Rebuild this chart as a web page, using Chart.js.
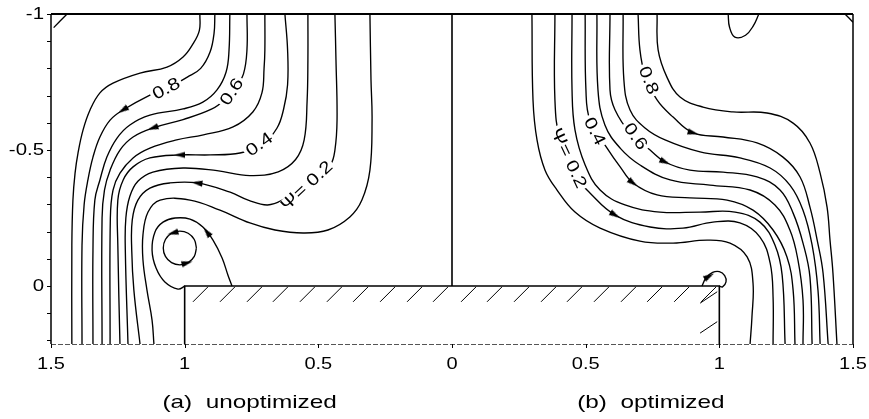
<!DOCTYPE html>
<html>
<head>
<meta charset="utf-8">
<script src="https://cdn.jsdelivr.net/npm/chart.js@4.4.0/dist/chart.umd.min.js"></script>
<style>
html, body { margin: 0; padding: 0; background: #fff; }
#wrap { width: 869px; height: 419px; }
</style>
</head>
<body>
<div id="wrap"><canvas id="c" width="869" height="419"></canvas></div>
<script>
// streamlines, left half (unoptimized), [x, y] with y = -1 at the top
const psiL9 = [[-0.943,-1],[-0.945,-0.94],[-0.969,-0.89],[-1.006,-0.842],[-1.066,-0.805],[-1.167,-0.783],[-1.268,-0.746],[-1.317,-0.710],[-1.354,-0.647],[-1.380,-0.574],[-1.399,-0.489],[-1.410,-0.415],[-1.418,-0.316],[-1.422,-0.15],[-1.422,0.213]];
const psiL8 = [[-0.887,-1],[-0.89,-0.93],[-0.905,-0.86],[-0.94,-0.80],[-0.99,-0.768],[-1.06,-0.73],[-1.130,-0.702],[-1.231,-0.647],[-1.279,-0.610],[-1.317,-0.548],[-1.343,-0.474],[-1.362,-0.390],[-1.376,-0.30],[-1.384,-0.15],[-1.384,0.213]];
const psiL7 = [[-0.831,-1],[-0.834,-0.868],[-0.845,-0.787],[-0.879,-0.721],[-0.932,-0.676],[-1.006,-0.651],[-1.130,-0.628],[-1.205,-0.592],[-1.253,-0.544],[-1.291,-0.474],[-1.317,-0.390],[-1.336,-0.316],[-1.343,-0.132],[-1.343,0.213]];
const psiL6 = [[-0.767,-1],[-0.767,-0.868],[-0.78,-0.78],[-0.81,-0.73],[-0.85,-0.685],[-0.90,-0.650],[-1.006,-0.612],[-1.119,-0.581],[-1.193,-0.548],[-1.242,-0.5],[-1.279,-0.426],[-1.300,-0.353],[-1.309,-0.25],[-1.309,0.213]];
const psiL5 = [[-0.700,-1],[-0.700,-0.868],[-0.703,-0.80],[-0.711,-0.71],[-0.745,-0.640],[-0.819,-0.585],[-0.93,-0.556],[-1.03,-0.537],[-1.130,-0.507],[-1.193,-0.471],[-1.242,-0.415],[-1.268,-0.353],[-1.278,-0.25],[-1.279,0.213]];
const psiL4 = [[-0.625,-1],[-0.615,-0.868],[-0.615,-0.74],[-0.630,-0.65],[-0.655,-0.58],[-0.71,-0.52],[-0.793,-0.489],[-0.905,-0.482],[-1.018,-0.482],[-1.130,-0.471],[-1.193,-0.438],[-1.230,-0.390],[-1.250,-0.316],[-1.250,-0.15],[-1.242,0.213]];
const psiL3 = [[-0.539,-1],[-0.539,-0.83],[-0.542,-0.68],[-0.553,-0.537],[-0.585,-0.465],[-0.650,-0.42],[-0.756,-0.406],[-0.879,-0.424],[-1.006,-0.434],[-1.119,-0.419],[-1.175,-0.385],[-1.205,-0.33],[-1.220,-0.25],[-1.222,-0.132],[-1.212,0.213]];
const psiL2 = [[-0.438,-1],[-0.434,-0.831],[-0.430,-0.610],[-0.438,-0.5],[-0.455,-0.445],[-0.51,-0.40],[-0.57,-0.36],[-0.63,-0.318],[-0.69,-0.298],[-0.76,-0.315],[-0.83,-0.345],[-0.954,-0.379],[-1.055,-0.379],[-1.130,-0.360],[-1.175,-0.316],[-1.196,-0.243],[-1.198,-0.132],[-1.190,0.015],[-1.167,0.213]];
const psiL1 = [[-0.307,-1],[-0.303,-0.757],[-0.299,-0.610],[-0.307,-0.426],[-0.337,-0.316],[-0.382,-0.254],[-0.464,-0.206],[-0.557,-0.195],[-0.662,-0.206],[-0.756,-0.232],[-0.868,-0.279],[-0.980,-0.316],[-1.092,-0.316],[-1.137,-0.272],[-1.156,-0.188],[-1.156,-0.096],[-1.141,0.015],[-1.122,0.125],[-1.115,0.213]];
const psiL0 = [[-0.999,0],[-1.025,0.011],[-1.074,-0.015],[-1.107,-0.066],[-1.122,-0.132],[-1.111,-0.199],[-1.081,-0.235],[-1.036,-0.250],[-0.980,-0.246],[-0.932,-0.217],[-0.894,-0.169],[-0.860,-0.103],[-0.838,-0.040],[-0.823,0]];
const vortexL = [[-0.956,-0.140],[-0.964,-0.109],[-0.987,-0.086],[-1.018,-0.078],[-1.049,-0.086],[-1.072,-0.109],[-1.080,-0.140],[-1.072,-0.171],[-1.049,-0.194],[-1.018,-0.202],[-0.987,-0.194],[-0.964,-0.171],[-0.956,-0.140]];
const cornerL = [[-1.49,-0.95],[-1.44,-1]];

// streamlines, right half (optimized)
const psiR1 = [[0.299,-1],[0.303,-0.684],[0.318,-0.537],[0.348,-0.426],[0.393,-0.353],[0.460,-0.272],[0.554,-0.213],[0.703,-0.165],[0.827,-0.158],[0.954,-0.169],[1.040,-0.158],[1.104,-0.107],[1.126,-0.011],[1.122,0.114],[1.115,0.213]];
const psiR2 = [[0.385,-1],[0.385,-0.684],[0.404,-0.537],[0.460,-0.408],[0.516,-0.342],[0.610,-0.261],[0.741,-0.217],[0.864,-0.213],[0.976,-0.235],[1.077,-0.232],[1.152,-0.180],[1.190,-0.085],[1.201,0.040],[1.201,0.213]];
const psiR3 = [[0.449,-1],[0.449,-0.721],[0.460,-0.574],[0.498,-0.445],[0.554,-0.353],[0.647,-0.298],[0.778,-0.272],[0.928,-0.272],[1.059,-0.272],[1.152,-0.235],[1.208,-0.151],[1.235,-0.040],[1.246,0.213]];
const psiR4 = [[0.498,-1],[0.501,-0.721],[0.516,-0.610],[0.580,-0.507],[0.629,-0.438],[0.677,-0.379],[0.767,-0.335],[0.890,-0.324],[1.029,-0.316],[1.126,-0.279],[1.201,-0.206],[1.253,-0.107],[1.276,0.015],[1.283,0.213]];
const psiR5 = [[0.542,-1],[0.546,-0.721],[0.572,-0.592],[0.629,-0.507],[0.703,-0.445],[0.816,-0.390],[0.965,-0.371],[1.115,-0.353],[1.208,-0.298],[1.264,-0.206],[1.294,-0.096],[1.313,0.051],[1.313,0.213]];
const psiR6 = [[0.591,-1],[0.591,-0.721],[0.610,-0.647],[0.666,-0.563],[0.741,-0.5],[0.797,-0.456],[0.890,-0.426],[1.014,-0.419],[1.141,-0.401],[1.227,-0.353],[1.276,-0.268],[1.313,-0.158],[1.339,-0.033],[1.347,0.213]];
const psiR7 = [[0.640,-1],[0.643,-0.757],[0.666,-0.647],[0.722,-0.581],[0.797,-0.537],[0.928,-0.493],[1.077,-0.471],[1.190,-0.434],[1.264,-0.371],[1.313,-0.279],[1.347,-0.151],[1.369,0.015],[1.377,0.213]];
const psiR8 = [[0.696,-1],[0.703,-0.868],[0.722,-0.776],[0.767,-0.684],[0.827,-0.621],[0.902,-0.563],[1.014,-0.548],[1.141,-0.526],[1.238,-0.474],[1.302,-0.401],[1.339,-0.290],[1.366,-0.169],[1.388,-0.048],[1.407,0.213]];
const psiR9 = [[0.767,-1],[0.771,-0.868],[0.804,-0.768],[0.853,-0.695],[0.939,-0.658],[1.051,-0.640],[1.178,-0.636],[1.276,-0.599],[1.339,-0.526],[1.377,-0.415],[1.403,-0.290],[1.414,-0.169],[1.425,-0.048],[1.440,0.213]];
const bumpR = [[1.033,-1],[1.038,-0.952],[1.058,-0.915],[1.098,-0.922],[1.128,-0.958],[1.148,-1]];
const bubbleR = [[0.935,0.0],[0.95,-0.03],[0.975,-0.05],[1.0,-0.053],[1.02,-0.038],[1.025,-0.015],[1.012,0.003],[1.0,0.0]];
const cornerR = [[1.47,-1],[1.5,-0.97]];

// wall and symmetry line
const block = [[-1,0.213],[-1,0],[1,0],[1,0.213]];
const midLine = [[0,-1],[0,0]];

// flow arrows
const arrowX = [-1.231,-1.119,-1.018,-0.954,-0.917,-1.044,-0.991, 0.902,0.797,0.677,0.610,0.962];
const arrowY = [-0.647,-0.581,-0.482,-0.379,-0.199,-0.195,-0.085, -0.563,-0.456,-0.379,-0.261,-0.036];
const arrowRot = [-122,-109,-90,-82,-38,-105,75, 105,115,127,121,60];

// contour labels
const labelText = ['0.8','0.6','0.4','\u03A8= 0.2','\u03A8= 0.2','0.4','0.6','0.8'];
const labelX = [-1.07,-0.825,-0.722,-0.545, 0.438,0.535,0.688,0.737];
const labelY = [-0.727,-0.715,-0.522,-0.37, -0.471,-0.57,-0.551,-0.757];
const labelAngle = [-28,-57,-36,-43, 65,63,55,69];

// axes
const xTicks = [-1.5,-1,-0.5,0,0.5,1,1.5];
const yTicks = [-1,-0.5,0];
const yMinor = [-1,-0.9,-0.8,-0.7,-0.6,-0.5,-0.4,-0.3,-0.2,-0.1,0,0.1,0.2];
const hatchTop = [-0.969,-0.868,-0.767,-0.670,-0.569,-0.468,-0.370,-0.269,-0.168,-0.071,0.034,0.131,0.232,0.333,0.430,0.531,0.632,0.730,0.831,0.932];
const hatchSide = [0.063,0.173];
const captions = ['(a)  unoptimized','(b)  optimized'];
const captionX = [-0.757,0.744];

const toPts = a => a.map(p => ({x: p[0], y: p[1]}));

// narrow arrow head, tip pointing up
const arrowImg = document.createElement('canvas');
arrowImg.width = 11; arrowImg.height = 11;
(function () {
    const g = arrowImg.getContext('2d');
    g.fillStyle = '#000';
    g.beginPath();
    g.moveTo(5.5, 0);
    g.lineTo(8.6, 11);
    g.lineTo(2.4, 11);
    g.closePath();
    g.fill();
})();

const streams = [psiL9, psiL8, psiL7, psiL6, psiL5, psiL4, psiL3, psiL2, psiL1, psiL0, vortexL, cornerL,
                 psiR1, psiR2, psiR3, psiR4, psiR5, psiR6, psiR7, psiR8, psiR9, bumpR, bubbleR, cornerR];

const datasets = [{
    data: arrowX.map((v, i) => ({x: v, y: arrowY[i]})),
    showLine: false,
    pointStyle: arrowImg,
    pointRotation: arrowRot,
    pointRadius: 5,
    borderWidth: 0
}];
streams.forEach(s => datasets.push({
    data: toPts(s), borderColor: '#000', borderWidth: 1.35, pointRadius: 0, fill: false, tension: 0.4
}));
[block, midLine].forEach(s => datasets.push({
    data: toPts(s), borderColor: '#000', borderWidth: 1.6, pointRadius: 0, fill: false, tension: 0
}));

// frame, hatching, labels and tick texts
const decor = {
    id: 'decor',
    afterDatasetsDraw(chart) {
        const {ctx, chartArea: a, scales: {x, y}} = chart;
        const font = '"Liberation Sans", Arial, sans-serif';

        ctx.save();
        ctx.beginPath();
        ctx.rect(a.left, a.top, a.right - a.left, a.bottom - a.top);
        ctx.clip();
        ctx.strokeStyle = '#000';
        ctx.lineWidth = 1;
        ctx.beginPath();
        hatchTop.forEach(h => {
            ctx.moveTo(x.getPixelForValue(h), y.getPixelForValue(0.058));
            ctx.lineTo(x.getPixelForValue(h + 0.056), y.getPixelForValue(0.003));
        });
        hatchSide.forEach(h => {
            ctx.moveTo(x.getPixelForValue(0.928), y.getPixelForValue(h));
            ctx.lineTo(x.getPixelForValue(0.992), y.getPixelForValue(h - 0.042));
        });
        ctx.stroke();
        ctx.restore();

        // contour labels on a white patch
        ctx.save();
        ctx.font = '17px ' + font;
        ctx.textAlign = 'center';
        ctx.textBaseline = 'middle';
        labelText.forEach((t, i) => {
            ctx.save();
            ctx.translate(x.getPixelForValue(labelX[i]), y.getPixelForValue(labelY[i]));
            ctx.rotate(labelAngle[i] * Math.PI / 180);
            ctx.scale(1.22, 1);
            const w = ctx.measureText(t).width;
            ctx.fillStyle = '#fff';
            ctx.fillRect(-w / 2 - 2, -6, w + 4, 12);
            ctx.fillStyle = '#000';
            ctx.fillText(t, 0, 1);
            ctx.restore();
        });
        ctx.restore();

        // frame
        ctx.save();
        ctx.strokeStyle = '#000';
        ctx.lineWidth = 2;
        ctx.beginPath();
        ctx.moveTo(a.left, a.top); ctx.lineTo(a.right, a.top);
        ctx.stroke();
        ctx.lineWidth = 1.5;
        ctx.beginPath();
        ctx.moveTo(a.left, a.top); ctx.lineTo(a.left, a.bottom);
        ctx.moveTo(a.right, a.top); ctx.lineTo(a.right, a.bottom);
        ctx.stroke();
        ctx.strokeStyle = '#555';
        ctx.lineWidth = 1;
        ctx.setLineDash([5, 2]);
        ctx.beginPath();
        ctx.moveTo(a.left, a.bottom + 0.5); ctx.lineTo(a.right, a.bottom + 0.5);
        ctx.stroke();
        ctx.setLineDash([]);

        // ticks
        ctx.strokeStyle = '#000';
        ctx.beginPath();
        yMinor.forEach(v => {
            const py = Math.round(y.getPixelForValue(v)) + 0.5;
            ctx.moveTo(a.left - 4, py); ctx.lineTo(a.left, py);
        });
        xTicks.forEach(v => {
            const px = Math.round(x.getPixelForValue(v)) + 0.5;
            ctx.moveTo(px, a.bottom); ctx.lineTo(px, a.bottom + 4);
        });
        ctx.stroke();

        ctx.fillStyle = '#000';
        ctx.font = '17px ' + font;
        ctx.textBaseline = 'middle';
        ctx.textAlign = 'right';
        yTicks.forEach(v => {
            ctx.save();
            ctx.translate(a.left - 7, y.getPixelForValue(v));
            ctx.scale(1.2, 1);
            ctx.fillText(String(v), 0, 0);
            ctx.restore();
        });
        ctx.textAlign = 'center';
        xTicks.forEach(v => {
            ctx.save();
            ctx.translate(x.getPixelForValue(v), a.bottom + 20);
            ctx.scale(1.18, 1);
            ctx.fillText(String(Math.abs(v)), 0, 0);
            ctx.restore();
        });
        ctx.font = '19px ' + font;
        captions.forEach((t, i) => {
            ctx.save();
            ctx.translate(x.getPixelForValue(captionX[i]), a.bottom + 59);
            ctx.scale(1.28, 1);
            ctx.fillText(t, 0, 0);
            ctx.restore();
        });
        ctx.restore();
    }
};

new Chart(document.getElementById('c'), {
    type: 'line',
    data: { datasets: datasets },
    options: {
        responsive: false,
        animation: false,
        devicePixelRatio: 1,
        events: [],
        layout: { padding: { left: 51, right: 16, top: 14, bottom: 75 } },
        scales: {
            x: { type: 'linear', min: -1.5, max: 1.5, display: false },
            y: { type: 'linear', min: -1, max: 0.213, reverse: true, display: false }
        },
        plugins: {
            legend: { display: false },
            tooltip: { enabled: false }
        }
    },
    plugins: [decor]
});
</script>
</body>
</html>
